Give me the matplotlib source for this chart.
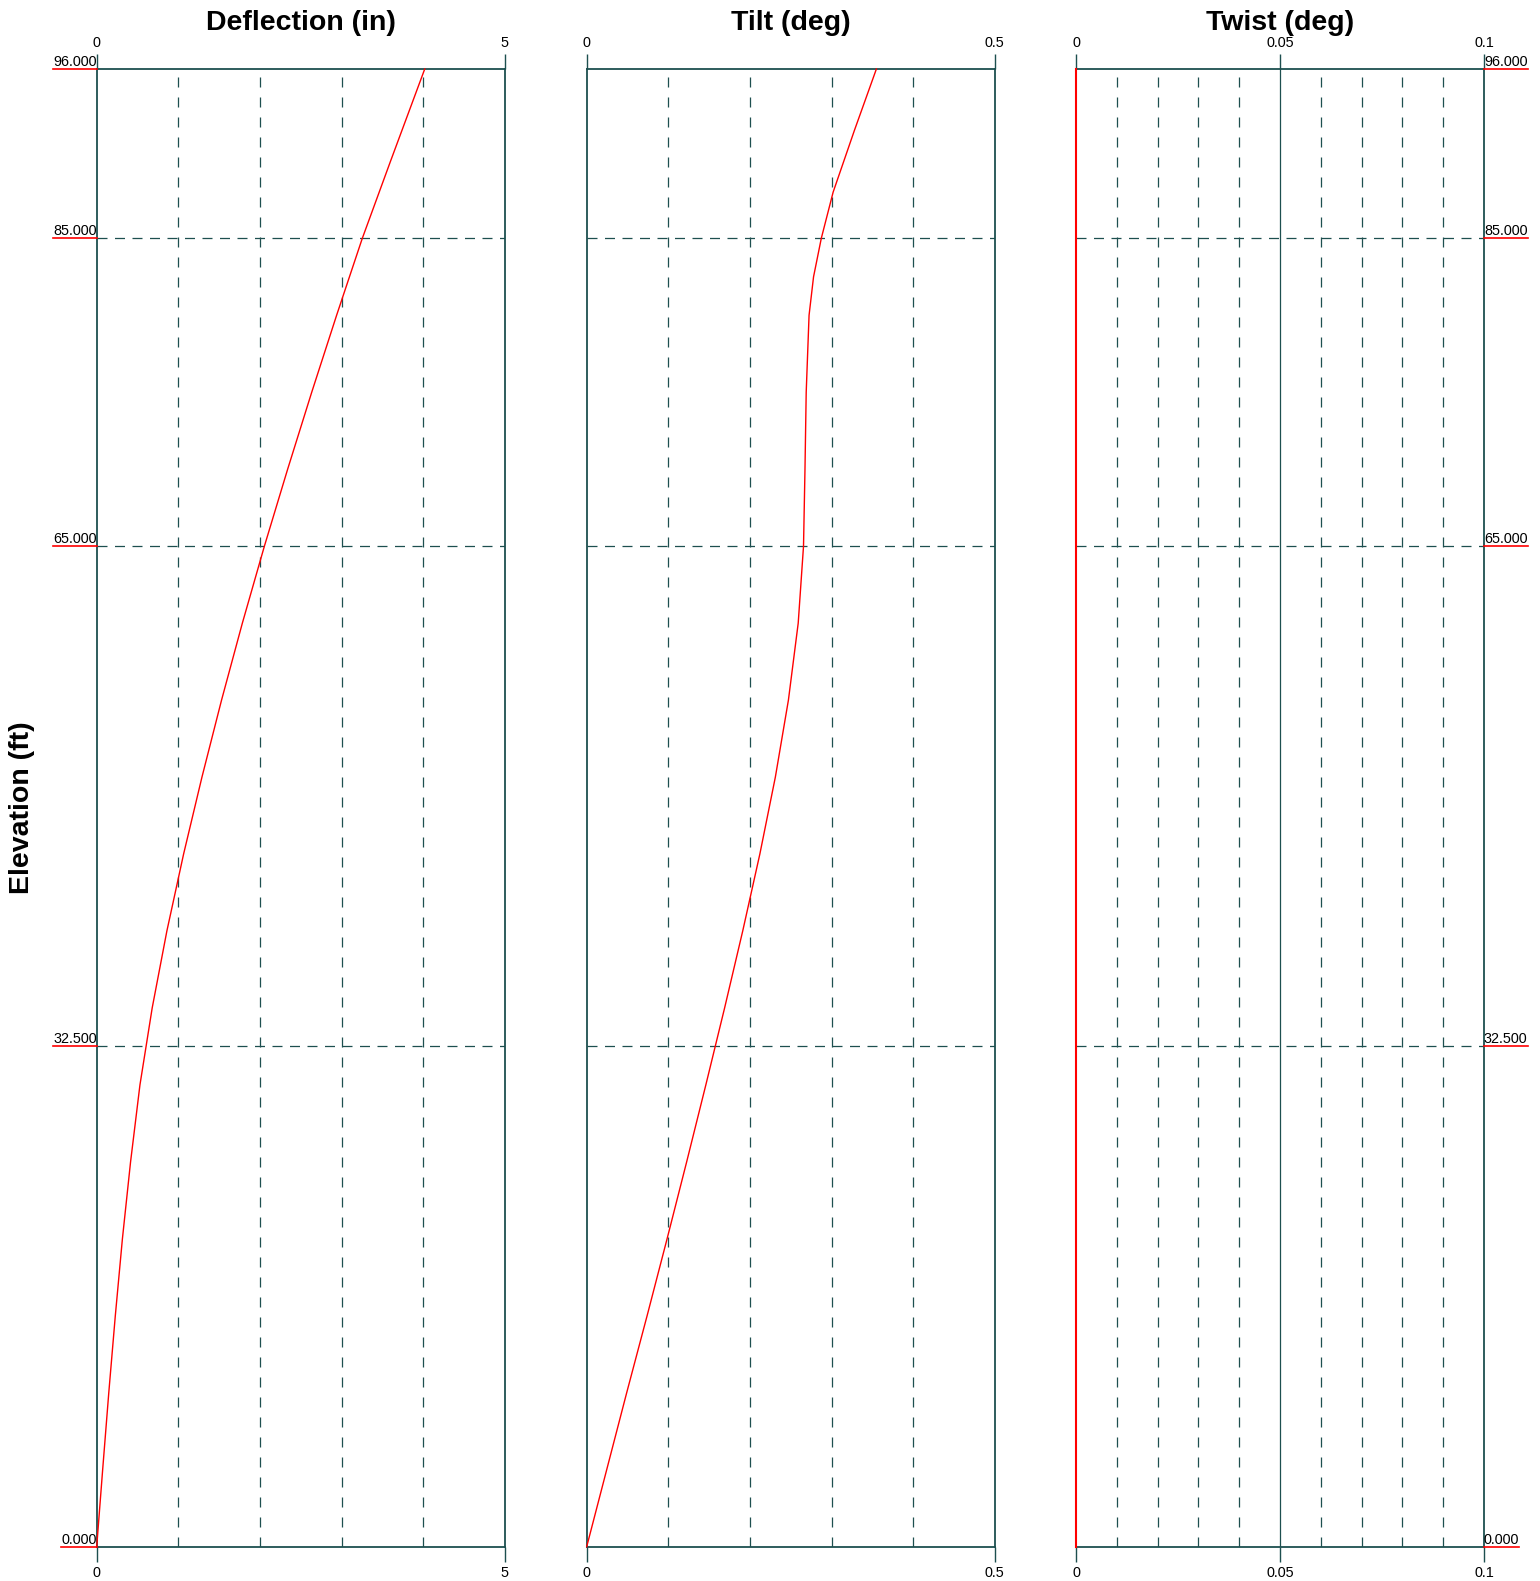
import numpy as np
import matplotlib.pyplot as plt
from matplotlib.lines import Line2D

plt.rcParams['font.family'] = ['Liberation Sans', 'DejaVu Sans']

# elevation (ft) vs response
elevation = [0, 5, 10, 15, 20, 25, 30, 35, 40, 45, 50, 55, 60, 65, 70, 75, 80, 85, 90, 96]
deflection = [0, 0.073, 0.148, 0.228, 0.315, 0.415, 0.53, 0.68, 0.86, 1.065, 1.29, 1.53,
              1.785, 2.055, 2.34, 2.635, 2.94, 3.255, 3.60, 4.02]

elev_tilt = [0, 5, 10, 15, 20, 25, 30, 35, 40, 45, 50, 55, 60, 65, 70, 75, 80, 82.5, 85, 88, 92, 96]
tilt = [0, 0.0245, 0.049, 0.074, 0.0985, 0.1225, 0.146, 0.169, 0.1912, 0.2122, 0.2312, 0.2472,
        0.2592, 0.2657, 0.2675, 0.269, 0.2725, 0.278, 0.2875, 0.302, 0.328, 0.355]

elev_twist = [0, 96]
twist = [0, 0]

y_ticks = [0, 32.5, 65, 85, 96]
titles = ['Deflection (in)', 'Tilt (deg)', 'Twist (deg)']
x_max = [5, 0.5, 0.1]
x_major = [[0, 5], [0, 0.5], [0, 0.05, 0.1]]
x_major_labels = [['0', '5'], ['0', '0.5'], ['0', '0.05', '0.1']]
x_minor = [[1, 2, 3, 4], [0.1, 0.2, 0.3, 0.4], [0.01, 0.02, 0.03, 0.04, 0.06, 0.07, 0.08, 0.09]]

teal = '#1d4f4f'
W, H = 1540, 1581
fig = plt.figure(figsize=(W / 100, H / 100), dpi=100)

lefts = [96.7, 586.7, 1076]
pw = 408
top, bottom = 69, 1546.7
axes = []
for i in range(3):
    ax = fig.add_axes([lefts[i] / W, 1 - bottom / H, pw / W, (bottom - top) / H])
    axes.append(ax)
    ax.set_xlim(0, x_max[i])
    ax.set_ylim(0, 96)
    ax.set_xticks(x_major[i])
    ax.set_xticklabels(x_major_labels[i])
    ax.set_xticks(x_minor[i], minor=True)
    ax.set_yticks(y_ticks)
    ax.set_yticklabels([])
    ax.tick_params(axis='x', which='major', top=True, bottom=True, labeltop=True,
                   labelbottom=True, direction='out', length=11, width=1,
                   color=teal, labelsize=10.4, pad=3)
    ax.tick_params(axis='x', which='minor', length=0)
    ax.tick_params(axis='y', length=0)
    for s in ax.spines.values():
        s.set_color(teal)
        s.set_linewidth(1.3)
    # dashed grid
    for yv in y_ticks[1:-1]:
        ax.axhline(yv, color=teal, lw=0.9, linestyle=(0, (8, 6)), zorder=1)
    for xv in x_minor[i]:
        ax.axvline(xv, color=teal, lw=0.9, linestyle=(0, (8, 8)), zorder=1)
    for xv in x_major[i][1:-1]:
        ax.axvline(xv, color=teal, lw=0.9, zorder=1)
    fig.text((lefts[i] + pw / 2) / W, 1 - 23 / H, titles[i], ha='center', va='center',
             fontsize=20.5, fontweight='bold')

axes[0].plot(deflection, elevation, color='red', lw=1, zorder=5, clip_on=False)
axes[1].plot(tilt, elev_tilt, color='red', lw=1, zorder=5, clip_on=False)
axes[2].plot(twist, elev_twist, color='red', lw=1.5, zorder=5, clip_on=False)

fig.text(22 / W, 1 - 808 / H, 'Elevation (ft)', rotation=90, ha='center', va='center',
         fontsize=20.5, fontweight='bold')

# elevation labels with red underline, left of first panel and right of last panel
labels = []
for ax, side in [(axes[0], 'left'), (axes[2], 'right')]:
    for yv in y_ticks:
        xa = 0 if side == 'left' else 1
        t = ax.annotate(f'{yv:.3f}', xy=(xa, yv), xycoords=('axes fraction', 'data'),
                        xytext=(0, 0), textcoords='offset points',
                        ha='right' if side == 'left' else 'left', va='bottom',
                        fontsize=10.4, annotation_clip=False)
        labels.append((ax, side, yv, t))

fig.canvas.draw()
renderer = fig.canvas.get_renderer()
inv = fig.transFigure.inverted()
for ax, side, yv, t in labels:
    bb = t.get_window_extent(renderer)
    ydisp = ax.transData.transform((0, yv))[1]
    if side == 'left':
        x0 = bb.x0
        x1 = ax.transAxes.transform((0, 0))[0]
    else:
        x0 = ax.transAxes.transform((1, 0))[0]
        x1 = bb.x1
    (fx0, fy), (fx1, _) = inv.transform([(x0, ydisp), (x1, ydisp)])
    fig.add_artist(Line2D([fx0, fx1], [fy, fy], color='red', lw=1.2, transform=fig.transFigure))

fig.savefig('out.png', dpi=100, facecolor='white')
